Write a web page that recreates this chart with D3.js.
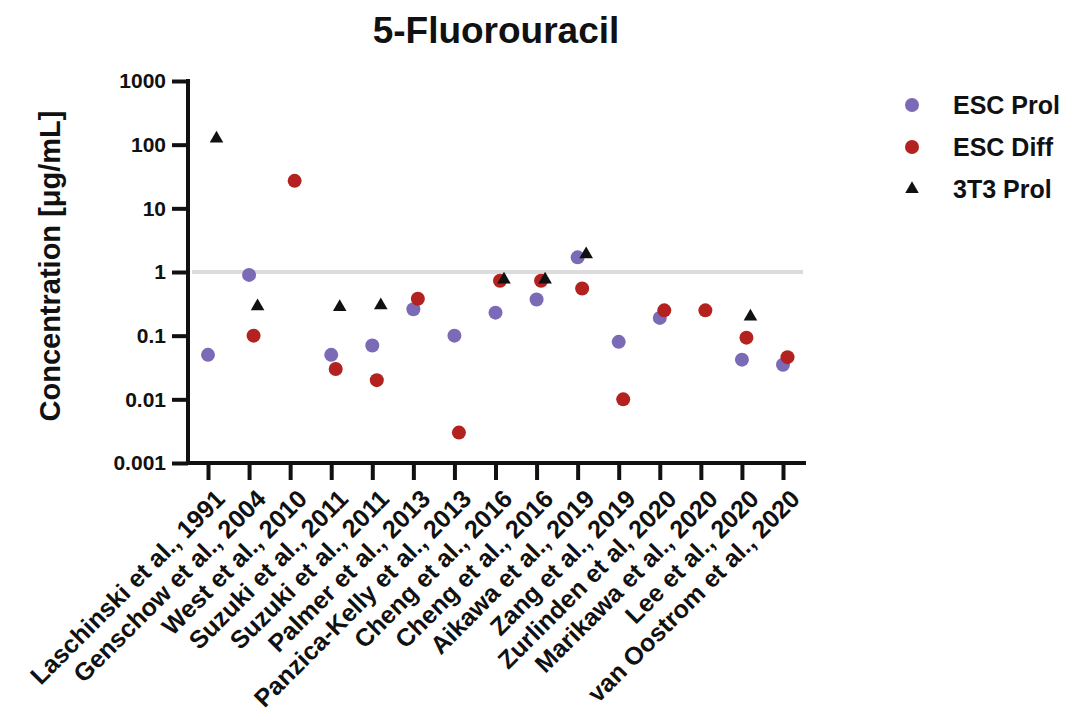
<!DOCTYPE html>
<html>
<head>
<meta charset="utf-8">
<script src="https://cdn.jsdelivr.net/npm/d3@7"></script>
<style>
  body { margin: 0; background: #fff; }
  text { font-family: "Liberation Sans", Arial, sans-serif; font-weight: bold; fill: #111; }
</style>
</head>
<body>
<svg id="chart" width="1068" height="723"></svg>
<script>
// data (µg/mL), null = no value
var studies = ["Laschinski et al., 1991", "Genschow et al., 2004", "West et al., 2010",
  "Suzuki et al., 2011", "Suzuki et al., 2011", "Palmer et al., 2013", "Panzica-Kelly et al., 2013",
  "Cheng et al., 2016", "Cheng et al., 2016", "Aikawa et al., 2019", "Zang et al., 2019",
  "Zurlinden et al, 2020", "Marikawa et al., 2020", "Lee et al., 2020", "van Oostrom et al., 2020"];
var escProl = [0.05, 0.9, null, 0.05, 0.07, 0.26, 0.1, 0.23, 0.37, 1.7, 0.08, 0.19, null, 0.042, 0.035];
var escDiff = [null, 0.1, 27, 0.03, 0.02, 0.38, 0.003, 0.73, 0.73, 0.55, 0.01, 0.25, 0.25, 0.093, 0.046];
var t3Prol = [125, 0.29, null, 0.28, 0.3, null, null, 0.76, 0.76, 1.9, null, null, null, 0.2, null];
var yTicks = [0.001, 0.01, 0.1, 1, 10, 100, 1000];
var yTickLabels = ["0.001", "0.01", "0.1", "1", "10", "100", "1000"];
var refLine = 1;

var svg = d3.select("#chart");
var keys = studies.map(function(d, i) { return i; });

var x = d3.scalePoint().domain(keys).range([208, 783]);
var y = d3.scaleLog().domain([0.001, 1000]).range([463, 81]);

// title
svg.append("text")
  .attr("x", 496).attr("y", 43)
  .attr("text-anchor", "middle")
  .style("font-size", "37px")
  .text("5-Fluorouracil");

// y label
svg.append("text")
  .attr("transform", "translate(60,266) rotate(-90)")
  .attr("text-anchor", "middle")
  .style("font-size", "29px")
  .text("Concentration [\u03bcg/mL]");

// reference line at 1
svg.append("line")
  .attr("x1", 192).attr("x2", 803)
  .attr("y1", y(refLine)).attr("y2", y(refLine))
  .attr("stroke", "#dcdcdc").attr("stroke-width", 4);

// y axis
var gy = svg.append("g").attr("transform", "translate(188,0)")
  .call(d3.axisLeft(y).tickValues(yTicks)
    .tickFormat(function(d, i) { return yTickLabels[i]; })
    .tickSize(16).tickPadding(6));
gy.select(".domain").remove();
gy.selectAll(".tick line").attr("stroke", "#111").attr("stroke-width", 4);
gy.selectAll(".tick text").style("font-size", "21px").style("font-family", "Liberation Sans, Arial, sans-serif")
  .style("font-weight", "bold").attr("fill", "#111");
svg.append("line").attr("x1", 188).attr("x2", 188).attr("y1", 79).attr("y2", 465)
  .attr("stroke", "#111").attr("stroke-width", 4);

// x axis
var gx = svg.append("g").attr("transform", "translate(0,463)")
  .call(d3.axisBottom(x).tickSize(17).tickFormat(""));
gx.select(".domain").remove();
gx.selectAll(".tick line").attr("stroke", "#111").attr("stroke-width", 4);
svg.append("line").attr("x1", 186).attr("x2", 806).attr("y1", 463).attr("y2", 463)
  .attr("stroke", "#111").attr("stroke-width", 4);

svg.append("g").selectAll("text").data(studies).enter().append("text")
  .attr("transform", function(d, i) { return "translate(" + (x(i) + 6) + ",488) rotate(-45)"; })
  .attr("text-anchor", "end")
  .attr("dy", "0.7em")
  .style("font-size", "25px")
  .text(function(d) { return d; });

// markers: ESC Prol, then ESC Diff, then 3T3 on top
var dots = svg.append("g");
escProl.forEach(function(v, i) {
  if (v == null) return;
  dots.append("circle").attr("cx", x(i)).attr("cy", y(v)).attr("r", 7).attr("fill", "#7b6ab5");
});
escDiff.forEach(function(v, i) {
  if (v == null) return;
  dots.append("circle").attr("cx", x(i) + 4.5).attr("cy", y(v)).attr("r", 7).attr("fill", "#b3221f");
});
var tri = d3.symbol().type(d3.symbolTriangle).size(80);
t3Prol.forEach(function(v, i) {
  if (v == null) return;
  dots.append("path").attr("d", tri)
    .attr("transform", "translate(" + (x(i) + 8.5) + "," + y(v) + ")")
    .attr("fill", "#111");
});

// legend
var legend = [
  { label: "ESC Prol", type: "circle", color: "#7b6ab5" },
  { label: "ESC Diff", type: "circle", color: "#b3221f" },
  { label: "3T3 Prol", type: "triangle", color: "#111" }
];
var lg = svg.append("g").selectAll("g").data(legend).enter().append("g")
  .attr("transform", function(d, i) { return "translate(912," + (105 + i * 42) + ")"; });
lg.each(function(d) {
  var g = d3.select(this);
  if (d.type === "circle") g.append("circle").attr("r", 7).attr("fill", d.color);
  else g.append("path").attr("d", tri).attr("fill", d.color);
});
lg.append("text").attr("x", 41).attr("dy", "0.36em").style("font-size", "25px").text(function(d) { return d.label; });
</script>
</body>
</html>
